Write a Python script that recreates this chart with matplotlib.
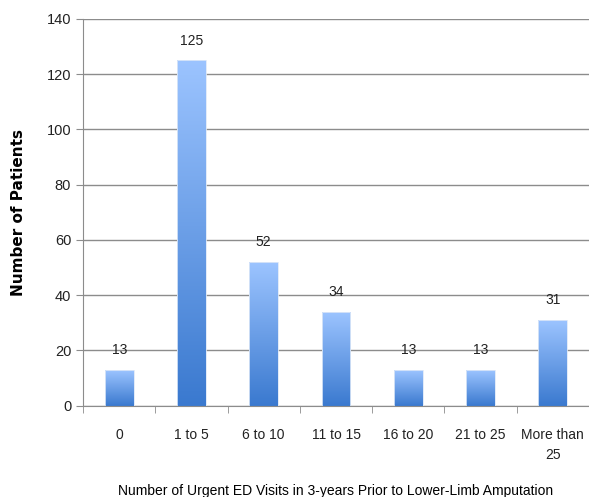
import numpy as np
import matplotlib
matplotlib.use("Agg")
import matplotlib.pyplot as plt
from matplotlib.colors import LinearSegmentedColormap

plt.rcParams["font.family"] = ["Liberation Sans", "DejaVu Sans"]

categories = ["0", "1 to 5", "6 to 10", "11 to 15", "16 to 20", "21 to 25", "More than\n25"]
patients = [13, 125, 52, 34, 13, 13, 31]

BAR_W = 0.4
grad = LinearSegmentedColormap.from_list("bar", ["#3a79cf", "#9cc4ff"])

fig = plt.figure(figsize=(5.89, 4.97), dpi=100)
ax = fig.add_axes([0.141, 0.184, 0.859, 0.778])

x = np.arange(len(categories))
ax.set_xlim(-0.5, len(categories) - 0.5)
ax.set_ylim(0, 140)

# gradient-filled bars: draw the bar, then an image clipped to it
bars = ax.bar(x, patients, width=BAR_W, color="none", edgecolor="#dde8f7", lw=0.6, zorder=3)
img = np.linspace(0, 1, 256).reshape(-1, 1)
for b, v in zip(bars, patients):
    x0 = b.get_x()
    im = ax.imshow(img, cmap=grad, origin="lower", aspect="auto",
                   extent=[x0, x0 + BAR_W, 0, v], zorder=2)
    im.set_clip_path(b)
    ax.annotate(str(v), (b.get_x() + BAR_W / 2, v), xytext=(0, 9),
                textcoords="offset points", ha="center", va="bottom",
                fontsize=10, color="#222222")

ax.set_yticks(np.arange(0, 141, 20))
ax.yaxis.grid(True, color="#8c8c8c", lw=1)
ax.set_axisbelow(True)
for s in ["top", "right"]:
    ax.spines[s].set_visible(False)
for s in ["left", "bottom"]:
    ax.spines[s].set_color("#8c8c8c")

ax.set_xticks(x)
ax.set_xticklabels(categories, linespacing=1.6)
ax.set_xticks(np.arange(-0.5, len(categories) - 0.4, 1), minor=True)
ax.tick_params(axis="x", which="major", length=0, pad=16, labelsize=10, labelcolor="#222222")
ax.tick_params(axis="x", which="minor", length=5, color="#8c8c8c")
ax.tick_params(axis="y", length=5, color="#8c8c8c", labelsize=10.5, labelcolor="#222222")

ax.set_xlabel("Number of Urgent ED Visits in 3-years Prior to Lower-Limb Amputation",
              fontsize=10, va="center")
ax.xaxis.set_label_coords(0.5, -0.222)
ax.set_ylabel("Number of Patients", fontsize=11, fontweight="bold",
              family=["DejaVu Sans"], va="center")
ax.yaxis.set_label_coords(-0.128, 0.5)

fig.savefig("out.png", dpi=100)
